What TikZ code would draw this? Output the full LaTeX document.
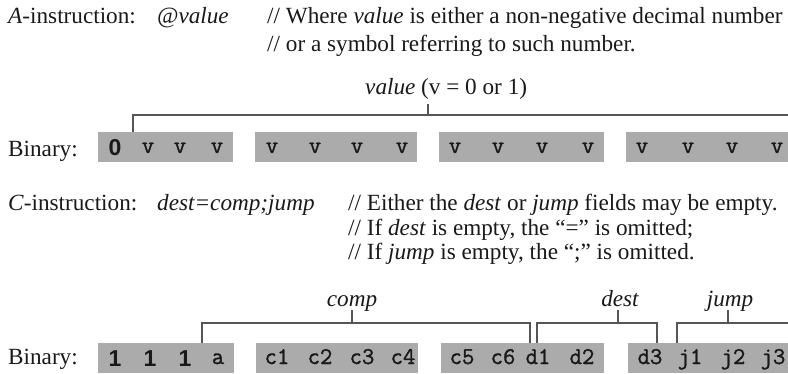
\documentclass[tikz,border=0pt]{standalone}
\usepackage{fontspec}
\setmainfont{Liberation Serif}
\setsansfont{Liberation Sans}
\newfontfamily\tokfont[FakeBold=1.3]{Latin Modern Mono}
\definecolor{boxgray}{RGB}{171,171,171}
\definecolor{lineg}{RGB}{85,85,85}
\definecolor{txtc}{RGB}{25,25,25}
\begin{document}
\begin{tikzpicture}[x=1pt,y=-1pt,
  txt/.style={anchor=base west, inner sep=0pt, text=txtc, font=\fontsize{23.2}{27}\selectfont},
  lab/.style={anchor=base, inner sep=0pt, text=txtc, font=\fontsize{23.2}{27}\selectfont\itshape},
  gbox/.style={fill=boxgray, draw=none, inner sep=0pt, minimum height=30pt},
  tok/.style={inner sep=0pt, anchor=base, text=txtc, font=\fontsize{24}{24}\tokfont\bfseries},
  btok/.style={inner sep=0pt, anchor=base, text=txtc, font=\fontsize{23}{23}\sffamily\bfseries},
  br/.style={draw=lineg, line width=1.1pt}]
\useasboundingbox (0,0) rectangle (788,373);

% ---- A-instruction text
\node[txt] (ainst) at (8,23) {\textit{A}-instruction:};
\node[txt] (aval) at (157,23) {\textit{@value}};
\node[txt] (acom1) at (267,23) {// Where \textit{value} is either a non-negative decimal number};
\node[txt] (acom2) at (267,51) {// or a symbol referring to such number.};

% ---- value bracket
\node[txt] (vlab) at (365,94) {\textit{value} (v = 0 or 1)};
\coordinate (vA) at (133,132);
\coordinate (vB) at (133,115);
\coordinate (vC) at (788,115);
\coordinate (vT1) at (428,104);
\coordinate (vT2) at (428,115);
\draw[br] (vA) -- (vB) -- (vC);
\draw[br] (vT1) -- (vT2);

% ---- row 1
\node[txt] (bin1) at (8,156) {Binary:};
\node[gbox, minimum width=135pt] (r1b1) at (165.5,147) {};
\node[gbox, minimum width=162pt] (r1b2) at (336,147) {};
\node[gbox, minimum width=165pt] (r1b3) at (521.5,147) {};
\node[gbox, minimum width=162pt] (r1b4) at (707,147) {};
\node[btok] (t0) at (115,155) {0};
\foreach \x [count=\i] in {148,180,217,272,315,357,402,455,498,542,588,642,688,732,777}
  \node[tok] (v\i) at (\x,153) {v};

% ---- C-instruction text
\node[txt] (cinst) at (8,210) {\textit{C}-instruction:};
\node[txt] (cval) at (157,210) {\textit{dest=comp;jump}};
\node[txt] (ccom1) at (348,210) {// Either the \textit{dest} or \textit{jump} fields may be empty.};
\node[txt] (ccom2) at (348,235) {// If \textit{dest} is empty, the “=” is omitted;};
\node[txt] (ccom3) at (348,259) {// If \textit{jump} is empty, the “;” is omitted.};

% ---- row 2 brackets
\node[lab] (lcomp) at (352,306) {comp};
\node[lab] (ldest) at (620,306) {dest};
\node[lab] (ljump) at (730,306) {jump};
\coordinate (cA) at (202,343);
\coordinate (cB) at (530,343);
\coordinate (dA) at (537,343);
\coordinate (dB) at (657,343);
\coordinate (jA) at (677,343);
\coordinate (jB) at (788,323);
\draw[br] (cA) -- ++(0,-20) -| (cB);
\draw[br] (352,310) -- (352,323);
\draw[br] (dA) -- ++(0,-20) -| (dB);
\draw[br] (618,310) -- (618,323);
\draw[br] (jA) |- (jB);
\draw[br] (728,310) -- (728,323);

% ---- row 2
\node[txt] (bin2) at (8,364) {Binary:};
\node[gbox, minimum width=136pt] (r2b1) at (166,358) {};
\node[gbox, minimum width=162pt] (r2b2) at (337,358) {};
\node[gbox, minimum width=163pt] (r2b3) at (522.5,358) {};
\node[gbox, minimum width=160pt] (r2b4) at (708,358) {};
\node[btok] (o1) at (115,366) {1};
\node[btok] (o2) at (150,366) {1};
\node[btok] (o3) at (185,366) {1};
\node[tok] (ta) at (218,364) {a};
\foreach \x/\t [count=\i] in {277/c1,320/c2,362/c3,403/c4,462/c5,503/c6,538/d1,582/d2,650/d3,690/j1,733/j2,773/j3}
  \node[tok] (w\i) at (\x,364) {\t};
\end{tikzpicture}
\end{document}
